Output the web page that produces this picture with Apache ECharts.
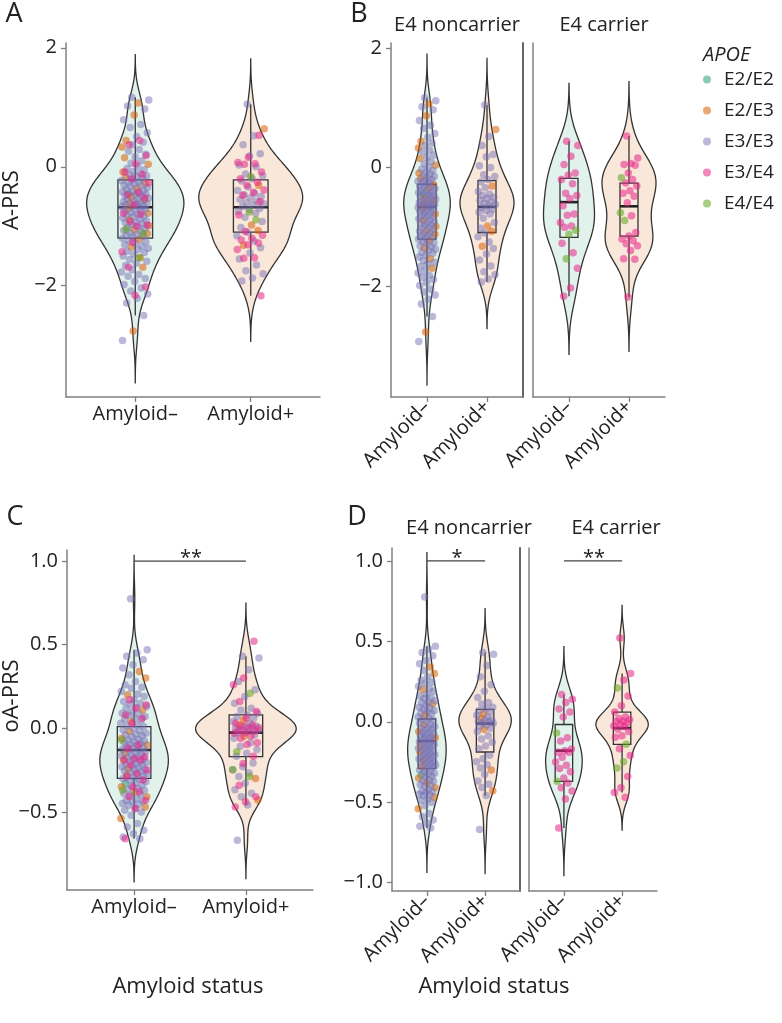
<!DOCTYPE html>
<html><head><meta charset="utf-8">
<script src="https://cdn.jsdelivr.net/npm/echarts@6/dist/echarts.min.js"></script>
<style>html,body{margin:0;padding:0;background:#fff}#c{width:782px;height:1023px}</style>
</head><body><div id="c"></div>
<script>
// ---------------- DATA ----------------
const categories = ['Amyloid\u2013', 'Amyloid+'];
const genotypes = ['E2/E2', 'E2/E3', 'E3/E3', 'E3/E4', 'E4/E4'];
const facetTitles = ['E4 noncarrier', 'E4 carrier'];
const aprsTicks = [-2, 0, 2];
const oaprsTicksC = [-0.5, 0, 0.5, 1.0];
const oaprsTicksD = [-1.0, -0.5, 0, 0.5, 1.0];

// [value, genotype index] ; A-PRS
const aprsNcNeg = [[1.17,2],[1.12,2],[1.07,1],[1.02,2],[0.97,2],[0.87,1],[0.79,2],[0.71,2],[0.66,2],[0.57,2],[0.51,2],[0.44,1],[0.41,2],[0.37,2],[0.33,1],[0.29,2],[0.26,2],[0.21,2],[0.17,2],[0.15,1],[0.10,2],[0.06,2],[0.04,1],[0.01,2],[-0.03,2],[-0.05,2],[-0.08,2],[-0.09,1],[-0.11,2],[-0.14,2],[-0.15,2],[-0.17,2],[-0.18,1],[-0.20,2],[-0.22,2],[-0.23,2],[-0.25,2],
[-0.26,2],[-0.28,1],[-0.29,2],[-0.31,2],[-0.32,2],[-0.33,2],[-0.35,2],[-0.36,1],[-0.38,2],[-0.40,2],[-0.41,2],[-0.42,2],[-0.44,2],[-0.45,0],[-0.46,2],[-0.47,2],[-0.49,2],[-0.50,2],[-0.51,1],[-0.53,2],[-0.54,2],[-0.55,2],[-0.56,1],[-0.58,2],[-0.59,2],[-0.60,2],[-0.61,1],[-0.62,2],[-0.63,2],[-0.64,2],[-0.65,2],[-0.66,2],[-0.67,2],
[-0.68,2],[-0.70,1],[-0.71,2],[-0.72,2],[-0.74,2],[-0.75,2],[-0.77,2],[-0.78,1],[-0.80,2],[-0.81,2],[-0.83,2],[-0.84,2],[-0.86,2],[-0.88,2],[-0.89,1],[-0.91,2],[-0.93,2],[-0.94,2],[-0.96,2],[-0.97,2],[-0.99,1],[-1.01,2],[-1.02,2],[-1.04,2],[-1.06,1],[-1.07,2],[-1.09,2],[-1.11,2],[-1.12,1],[-1.14,2],[-1.15,2],[-1.17,2],[-1.18,2],
[-1.20,2],[-1.22,1],[-1.24,2],[-1.26,2],[-1.28,2],[-1.31,2],[-1.33,2],[-1.35,1],[-1.37,2],[-1.39,2],[-1.42,2],[-1.44,2],[-1.47,2],[-1.50,2],[-1.53,1],[-1.56,2],[-1.59,2],[-1.62,2],[-1.66,2],[-1.69,1],[-1.73,2],[-1.77,2],[-1.81,2],[-1.84,2],[-1.88,2],[-1.93,2],[-1.98,2],[-2.04,2],[-2.09,2],[-2.14,2],[-2.21,2],[-2.29,2],[-2.50,2],[-2.76,1],[-2.92,2]];
const aprsNcPos = [[1.05,2],[0.64,1],[0.52,2],[0.37,2],[0.22,2],[0.18,2],[0.03,2],[0.00,2],[-0.12,2],[-0.15,2],[-0.20,2],[-0.24,2],[-0.31,1],[-0.34,2],[-0.40,2],[-0.45,2],[-0.47,2],[-0.50,2],[-0.52,2],[-0.55,2],[-0.58,2],[-0.60,2],[-0.62,2],[-0.64,2],[-0.67,2],[-0.70,2],[-0.72,2],[-0.75,2],[-0.78,2],[-0.85,2],[-0.92,2],[-0.98,1],[-1.02,2],[-1.07,1],[-1.10,2],[-1.16,2],[-1.25,2],[-1.32,1],[-1.36,2],[-1.45,2],[-1.55,2],[-1.65,2],[-1.75,2],[-1.80,2],[-1.87,2],[-1.92,2]];
const aprsCNeg = [[0.44,3],[0.37,3],[0.19,3],[0.05,3],[-0.09,3],[-0.13,3],[-0.20,3],[-0.27,3],[-0.43,3],[-0.47,3],[-0.52,3],[-0.64,3],[-0.78,3],[-0.80,3],[-0.92,3],[-0.98,3],[-1.00,3],[-1.05,4],[-1.12,4],[-1.27,3],[-1.43,3],[-1.53,4],[-1.69,3],[-2.02,3],[-2.16,3]];
const aprsCPos = [[0.53,3],[0.16,3],[0.07,3],[0.05,3],[0.04,3],[-0.09,3],[-0.17,4],[-0.20,3],[-0.26,3],[-0.31,3],[-0.39,3],[-0.43,3],[-0.48,3],[-0.59,3],[-0.76,4],[-0.81,3],[-0.89,4],[-1.09,3],[-1.15,3],[-1.20,3],[-1.23,3],[-1.28,3],[-1.31,3],[-1.39,3],[-1.53,3],[-1.54,3],[-2.17,3]];

// oA-PRS
const oaprsNcNeg = [[0.775,2],[0.47,2],[0.45,2],[0.43,2],[0.41,2],[0.38,2],[0.36,2],[0.34,1],[0.32,2],[0.30,1],[0.28,2],[0.26,2],[0.245,2],[0.24,2],[0.22,2],[0.205,2],[0.20,1],[0.19,2],[0.17,2],[0.16,2],[0.15,2],[0.145,2],[0.13,2],[0.125,2],[0.12,2],[0.11,1],[0.10,2],[0.09,2],[0.085,2],[0.08,2],[0.07,2],[0.06,2],[0.055,2],[0.05,2],[0.04,1],[0.03,2],[0.02,2],[0.015,2],[0.01,2],
[0.0,2],[-0.01,2],[-0.015,2],[-0.02,1],[-0.03,2],[-0.035,2],[-0.04,2],[-0.045,2],[-0.05,2],[-0.06,1],[-0.065,2],[-0.07,2],[-0.075,2],[-0.08,2],[-0.085,2],[-0.09,2],[-0.095,2],[-0.10,1],[-0.105,2],[-0.11,2],[-0.115,2],[-0.12,2],[-0.125,2],[-0.13,2],[-0.135,2],[-0.14,2],[-0.145,2],[-0.15,1],[-0.155,2],[-0.16,2],[-0.165,2],[-0.17,2],[-0.175,2],[-0.18,2],[-0.185,2],[-0.19,1],[-0.195,2],[-0.20,2],[-0.205,2],[-0.21,2],[-0.215,2],[-0.22,2],[-0.225,2],[-0.23,2],[-0.235,2],[-0.24,1],[-0.245,2],[-0.25,2],[-0.255,2],[-0.26,2],[-0.265,2],[-0.27,2],[-0.275,2],[-0.28,1],[-0.285,2],[-0.29,2],[-0.30,2],[-0.305,2],
[-0.31,2],[-0.32,2],[-0.325,2],[-0.33,0],[-0.34,2],[-0.345,2],[-0.35,1],[-0.36,2],[-0.365,2],[-0.37,2],[-0.38,1],[-0.39,2],[-0.395,2],[-0.40,2],[-0.41,1],[-0.42,2],[-0.43,2],[-0.435,2],[-0.44,2],[-0.45,2],[-0.455,2],[-0.46,2],[-0.47,1],[-0.48,2],[-0.49,2],[-0.50,2],[-0.52,2],[-0.54,1],[-0.57,2],[-0.59,2],[-0.61,2],[-0.63,2],[-0.65,2],[-0.66,2]];
const oaprsNcPos = [[0.43,2],[0.42,2],[0.35,2],[0.28,2],[0.23,2],[0.19,2],[0.15,2],[0.12,2],[0.11,2],[0.09,2],[0.08,2],[0.07,2],[0.06,2],[0.05,1],[0.04,2],[0.03,2],[0.02,1],[0.013,2],[0.01,2],[0.0,2],[0.0,2],[-0.007,2],[-0.01,2],[-0.02,2],[-0.027,2],[-0.04,2],[-0.047,1],[-0.06,2],[-0.087,2],[-0.107,2],[-0.127,2],[-0.15,2],[-0.168,2],[-0.208,2],[-0.23,2],[-0.248,2],[-0.268,2],[-0.288,2],[-0.30,1],[-0.328,2],[-0.368,2],[-0.388,2],[-0.409,2],[-0.429,1],[-0.459,2],[-0.67,2]];
const oaprsCNeg = [[0.17,3],[0.14,3],[0.12,3],[0.08,3],[0.06,3],[0.03,3],[-0.07,4],[-0.10,3],[-0.12,3],[-0.17,3],[-0.18,3],[-0.19,3],[-0.19,3],[-0.22,3],[-0.25,3],[-0.27,3],[-0.29,3],[-0.31,3],[-0.35,3],[-0.37,4],[-0.38,3],[-0.41,3],[-0.43,3],[-0.48,3],[-0.66,3]];
const oaprsCPos = [[0.52,3],[0.30,3],[0.26,3],[0.21,4],[0.16,3],[0.10,3],[0.06,3],[0.03,3],[0.02,3],[0.013,3],[0.003,3],[0.0,3],[-0.01,3],[-0.017,3],[-0.027,3],[-0.03,3],[-0.047,3],[-0.06,3],[-0.087,3],[-0.097,3],[-0.14,4],[-0.168,3],[-0.21,3],[-0.248,4],[-0.288,4],[-0.34,3],[-0.41,3],[-0.44,3],[-0.47,3]];

// box stats [lower whisker, Q1, median, Q3, upper whisker]
const aprsBoxA = [[-2.50,-1.20,-0.68,-0.22,1.17],[-2.17,-1.10,-0.68,-0.22,1.05]];
const aprsBoxBnc = [[-2.50,-1.20,-0.66,-0.28,1.17],[-1.92,-1.09,-0.66,-0.22,1.05]];
const aprsBoxBc = [[-2.16,-1.17,-0.58,-0.18,0.44],[-2.17,-1.15,-0.65,-0.26,0.53]];
const oaprsBoxC = [[-0.66,-0.30,-0.13,0.01,0.47],[-0.46,-0.17,-0.026,0.08,0.43]];
const oaprsBoxDnc = [[-0.66,-0.29,-0.12,0.017,0.47],[-0.46,-0.188,-0.011,0.077,0.43]];
const oaprsBoxDc = [[-0.66,-0.37,-0.18,-0.017,0.17],[-0.44,-0.14,-0.04,0.06,0.30]];

// significance: [from category, to category, y level]
const sigC = [1, 2, 1.0], sigCLabel = '**';
const sigDnc = [1, 2, 1.0], sigDncLabel = '*';
const sigDc = [1, 2, 1.0], sigDcLabel = '**';

// ---------------- STYLE / LAYOUT ----------------
const F = 'Open Sans';
const TXT = '#222';
const AX = '#808080';
const ptColors = ['rgba(27,158,119,0.65)','rgba(217,95,2,0.68)','rgba(117,112,179,0.62)','rgba(231,41,138,0.7)','rgba(102,166,30,0.7)'];
const violinFill = ['rgba(27,158,119,0.13)','rgba(217,95,2,0.15)'];

const panels = [
  {grid:{left:66,top:43,width:254,height:354}, y:[-3.87,2.08], ticks:aprsTicks, dec:0, groups:[aprsNcNeg.concat(aprsCNeg), aprsNcPos.concat(aprsCPos)], boxes:aprsBoxA, rot:0, labels:true, border:false, jw:0.12},
  {grid:{left:391,top:43,width:132,height:354}, y:[-3.85,2.09], ticks:aprsTicks, dec:0, groups:[aprsNcNeg, aprsNcPos], boxes:aprsBoxBnc, rot:45, labels:true, border:true, jw:0.15},
  {grid:{left:533,top:43,width:132,height:354}, y:[-3.85,2.09], ticks:aprsTicks, dec:0, groups:[aprsCNeg, aprsCPos], boxes:aprsBoxBc, rot:45, labels:false, border:false, jw:0.15},
  {grid:{left:67,top:550,width:246,height:340}, y:[-0.967,1.066], ticks:oaprsTicksC, dec:1, groups:[oaprsNcNeg.concat(oaprsCNeg), oaprsNcPos.concat(oaprsCPos)], boxes:oaprsBoxC, rot:0, labels:true, border:false, sig:sigC, sigLabel:sigCLabel, jw:0.12},
  {grid:{left:392,top:548,width:128,height:343}, y:[-1.052,1.08], ticks:oaprsTicksD, dec:1, groups:[oaprsNcNeg, oaprsNcPos], boxes:oaprsBoxDnc, rot:45, labels:true, border:true, sig:sigDnc, sigLabel:sigDncLabel, jw:0.15},
  {grid:{left:529,top:548,width:128,height:343}, y:[-1.052,1.08], ticks:oaprsTicksD, dec:1, groups:[oaprsCNeg, oaprsCPos], boxes:oaprsBoxDc, rot:45, labels:false, border:false, sig:sigDc, sigLabel:sigDcLabel, jw:0.15}
];

function quant(s,p){const h=(s.length-1)*p, i=Math.floor(h); const b=i+1<s.length?s[i+1]:s[i]; return s[i]+(h-i)*(b-s[i]);}
function kde(vals){
  const v=vals.map(d=>d[0]).sort((a,b)=>a-b), n=v.length;
  const mean=v.reduce((a,b)=>a+b,0)/n;
  const sd=Math.sqrt(v.reduce((a,b)=>a+(b-mean)*(b-mean),0)/(n-1));
  const iqr=quant(v,0.75)-quant(v,0.25);
  const bw=0.9*Math.min(sd,iqr/1.34)*Math.pow(n,-0.2);
  const lo=v[0]-3*bw, hi=v[n-1]+3*bw, N=180, ys=[], ds=[];
  for(let k=0;k<N;k++){const y=lo+(hi-lo)*k/(N-1); let s=0; for(const x of v){const z=(y-x)/bw; s+=Math.exp(-0.5*z*z);} ys.push(y); ds.push(s/(n*bw*Math.sqrt(2*Math.PI)));}
  return {ys,ds};
}
function jit(i,w){ return (((i*0.6180339887+0.37)%1)-0.5)*2*w; }

const violins=[];
function renderViolin(params, api){
  const v=violins[api.value(1)];
  const pts=[];
  for(let i=0;i<v.ys.length;i++) pts.push(api.coord([v.x+v.hw[i], v.ys[i]]));
  for(let i=v.ys.length-1;i>=0;i--) pts.push(api.coord([v.x-v.hw[i], v.ys[i]]));
  return {type:'polygon', shape:{points:pts}, style:{fill:v.fill, stroke:'#333', lineWidth:1.3}};
}
function renderBox(params, api){
  const x=api.value(0), lo=api.value(1), q1=api.value(2), md=api.value(3), q3=api.value(4), hi=api.value(5);
  const w=0.15;
  const a=api.coord([x-w,q3]), b=api.coord([x+w,q1]);
  const m1=api.coord([x-w,md]), m2=api.coord([x+w,md]);
  const t1=api.coord([x,q3]), t2=api.coord([x,hi]), b1=api.coord([x,q1]), b2=api.coord([x,lo]);
  const st={stroke:'#333', lineWidth:1.3, fill:null};
  return {type:'group', children:[
    {type:'line', shape:{x1:t1[0],y1:t1[1],x2:t2[0],y2:t2[1]}, style:st},
    {type:'line', shape:{x1:b1[0],y1:b1[1],x2:b2[0],y2:b2[1]}, style:st},
    {type:'rect', shape:{x:a[0],y:a[1],width:b[0]-a[0],height:b[1]-a[1]}, style:{stroke:'#333',lineWidth:1.3,fill:'rgba(0,0,0,0)'}},
    {type:'line', shape:{x1:m1[0],y1:m1[1],x2:m2[0],y2:m2[1]}, style:{stroke:'#222',lineWidth:2.6}}
  ]};
}

const xAxes=[], yAxes=[], grids=[], series=[];
panels.forEach((p,g)=>{
  grids.push(Object.assign({containLabel:false}, p.grid));
  xAxes.push({gridIndex:g, type:'value', min:0.4, max:2.6,
    axisLine:{show:true, onZero:false, lineStyle:{color:AX, width:1.5}},
    axisTick:{show:true, customValues:[1,2], length:5, lineStyle:{color:AX, width:1.3}},
    axisLabel:{show:true, customValues:[1,2], formatter:v=>categories[Math.round(v)-1], fontSize:20, fontFamily:F, color:TXT, margin:7, rotate:p.rot},
    splitLine:{show:false}});
  yAxes.push({gridIndex:g, type:'value', min:p.y[0], max:p.y[1],
    axisLine:{show:true, onZero:false, lineStyle:{color:AX, width:1.5}},
    axisTick:{show:p.labels, customValues:p.ticks, length:5, lineStyle:{color:AX, width:1.3}},
    axisLabel:{show:p.labels, customValues:p.ticks, fontSize:20, fontFamily:F, color:TXT, margin:9,
      formatter:v=>(v<-1e-9?'\u2212':'')+Math.abs(v).toFixed(p.dec)},
    splitLine:{show:false}});
  const dens=p.groups.map(kde);
  const maxD=Math.max(...dens.map(d=>Math.max(...d.ds)));
  const vdata=[];
  dens.forEach((d,c)=>{violins.push({x:c+1, ys:d.ys, hw:d.ds.map(q=>0.45*q/maxD), fill:violinFill[c]}); vdata.push([c+1, violins.length-1]);});
  series.push({type:'custom', xAxisIndex:g, yAxisIndex:g, z:1, silent:true, data:vdata, renderItem:renderViolin});
  series.push({type:'custom', xAxisIndex:g, yAxisIndex:g, z:3, silent:true, data:p.boxes.map((b,c)=>[c+1].concat(b)), renderItem:renderBox});
  genotypes.forEach((name,k)=>{
    const data=[];
    p.groups.forEach((grp,c)=>grp.forEach((d,i)=>{ if(d[1]===k) data.push([c+1+jit(i,p.jw), d[0]]); }));
    series.push({type:'scatter', name, xAxisIndex:g, yAxisIndex:g, z:4, symbolSize:7.5, itemStyle:{color:ptColors[k]}, data, silent:true, animation:false});
  });
  if(p.sig){
    const lab=p.sigLabel;
    series.push({type:'custom', xAxisIndex:g, yAxisIndex:g, z:5, silent:true, data:[p.sig],
      renderItem:(params,api)=>{
        const a=api.coord([api.value(0),api.value(2)]), b=api.coord([api.value(1),api.value(2)]);
        return {type:'group', children:[
          {type:'line', shape:{x1:a[0],y1:a[1],x2:b[0],y2:b[1]}, style:{stroke:'#444',lineWidth:1.3}},
          {type:'text', style:{text:lab, x:(a[0]+b[0])/2+1, y:a[1]-3, align:'center', verticalAlign:'middle', fontSize:20, fontFamily:F, fill:TXT}}
        ]};
      }});
  }
});
// right-hand border lines of the left facets
panels.forEach((p,g)=>{
  if(p.border){
    yAxes.push({gridIndex:g, type:'value', min:p.y[0], max:p.y[1], position:'right',
      axisLine:{show:true, onZero:false, lineStyle:{color:'#555', width:1.8}}, axisTick:{show:false}, axisLabel:{show:false}, splitLine:{show:false}});
  }
});

function txt(t,x,y,size,opt){return Object.assign({type:'text', x, y, silent:true, style:{text:t, fontSize:size, fontFamily:F, fill:TXT, align:'center', verticalAlign:'middle'}}, opt||{});}
const graphics=[
  txt('A',14,14,27), txt('B',359,14,27), txt('C',15,517,27), txt('D',357,517,27),
  txt(facetTitles[0],457,25,20), txt(facetTitles[1],604,25,20),
  txt(facetTitles[0],469,528,20), txt(facetTitles[1],616,528,20),
  txt('A-PRS',12,200,22,{rotation:Math.PI/2}), txt('oA-PRS',12,696,22,{rotation:Math.PI/2}),
  txt('Amyloid status',188,987,22), txt('Amyloid status',494,987,22),
  {type:'text', x:703, y:55, silent:true, style:{text:'APOE', fontSize:20, fontStyle:'italic', fontFamily:F, fill:TXT, align:'left', verticalAlign:'middle'}}
];

const chart=echarts.init(document.getElementById('c'), null, {renderer:'canvas'});
chart.setOption({
  animation:false,
  backgroundColor:'#fff',
  grid:grids, xAxis:xAxes, yAxis:yAxes, series,
  legend:{data:genotypes, orient:'vertical', left:703, top:70, padding:0, itemWidth:8, itemHeight:8, itemGap:12, icon:'circle', selectedMode:false,
    textStyle:{fontSize:19, fontFamily:F, color:TXT, lineHeight:19, padding:[0,0,0,8]}},
  graphic:graphics
});
</script></body></html>
